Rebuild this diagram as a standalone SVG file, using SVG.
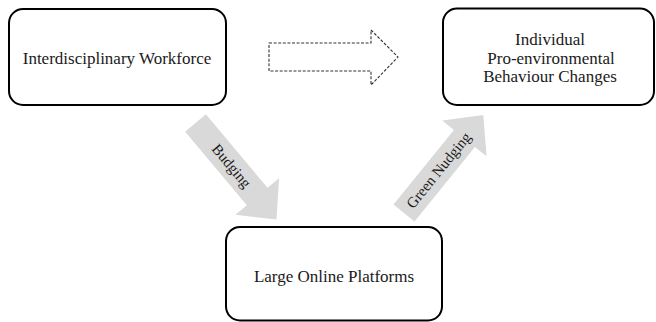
<svg xmlns="http://www.w3.org/2000/svg" width="656" height="322" viewBox="0 0 656 322">
  <style>
    .box { fill: #fff; stroke: #000; stroke-width: 2; }
    .lbl { font-family: "Liberation Serif", "Times New Roman", serif; font-size: 17px; fill: #1a1a1a; text-anchor: middle; }
    .alb { font-family: "Liberation Serif", "Times New Roman", serif; font-size: 15px; fill: #1a1a1a; text-anchor: middle; }
    .fat { fill: #d9d9d9; stroke: none; }
    .dash { fill: #fff; stroke: #333; stroke-width: 1.1; stroke-dasharray: 3 1.6; }
  </style>
  <defs>
    <path id="fatArrow" d="M0,-13.5 L96,-13.5 L96,-28.5 L126,0 L96,28.5 L96,13.5 L0,13.5 Z"/>
  </defs>
  <rect width="656" height="322" fill="#fff"/>
  <g id="connectors">
    <g id="budging">
      <g transform="translate(195.5,123) rotate(50)">
        <use href="#fatArrow" class="fat"/>
        <text class="alb" x="56" y="5">Budging</text>
      </g>
    </g>
    <g id="green-nudging">
      <g transform="translate(404,213) rotate(-51)">
        <use href="#fatArrow" class="fat"/>
        <text class="alb" x="55" y="5">Green Nudging</text>
      </g>
    </g>
    <g id="dashed-arrow">
      <path class="dash" d="M269,43 L371,43 L371,30 L398,57 L371,85 L371,71 L269,71 Z"/>
    </g>
  </g>
  <g id="workforce">
    <rect class="box" x="9" y="9" width="217" height="96" rx="14"/>
    <text class="lbl" x="117" y="64">Interdisciplinary Workforce</text>
  </g>
  <g id="behaviour">
    <rect class="box" x="443" y="8.5" width="211" height="96.5" rx="14"/>
    <text class="lbl" x="550" y="45">Individual</text>
    <text class="lbl" x="551" y="63.5">Pro-environmental</text>
    <text class="lbl" x="550" y="82">Behaviour Changes</text>
  </g>
  <g id="platforms">
    <rect class="box" x="226" y="227" width="216" height="93.5" rx="14"/>
    <text class="lbl" x="334" y="282">Large Online Platforms</text>
  </g>
</svg>
